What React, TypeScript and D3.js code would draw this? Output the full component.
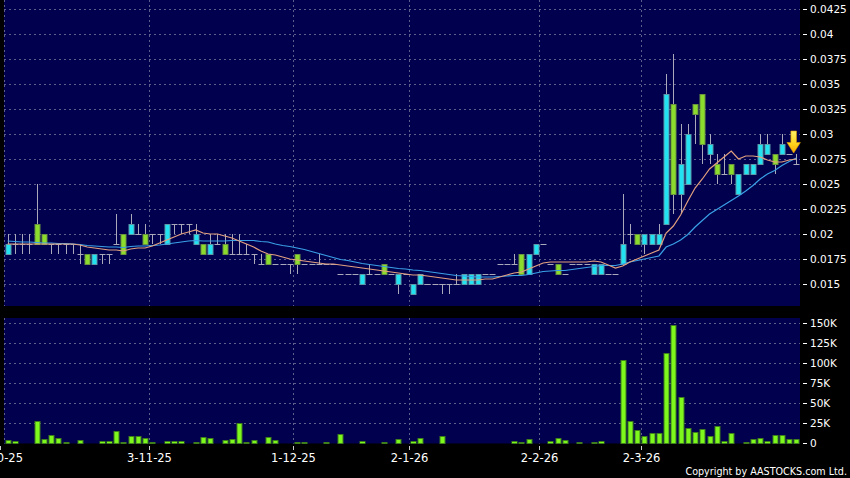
import { useEffect, useRef } from "react"
import * as d3 from "d3"

// daily candles, oldest first
const opens = [
	0.018, 0.019, 0.019, 0.019, 0.021, 0.02, 0.019, 0.019, 0.019, 0.019,
	0.018, 0.018, 0.017, 0.018, 0.018, 0.019, 0.02, 0.02, 0.02, 0.02,
	0.02, 0.02, 0.019, 0.021, 0.021, 0.021, 0.019, 0.019, 0.018, 0.019,
	0.019, 0.018, 0.018, 0.018, 0.018, 0.017, 0.018, 0.017, 0.017, 0.017,
	0.018, 0.017, 0.017, 0.017, 0.017, 0.017, 0.016, 0.016, 0.016, 0.015,
	0.016, 0.016, 0.017, 0.016, 0.015, 0.016, 0.014, 0.015, 0.015, 0.015,
	0.015, 0.015, 0.015, 0.015, 0.015, 0.015, 0.016, 0.016, 0.017, 0.017,
	0.017, 0.018, 0.016, 0.018, 0.019, 0.017, 0.017, 0.016, 0.017, 0.017,
	0.017, 0.016, 0.016, 0.016, 0.016, 0.017, 0.02, 0.02, 0.019, 0.019,
	0.019, 0.021, 0.033, 0.024, 0.025, 0.033, 0.034, 0.028, 0.027, 0.026,
	0.027, 0.024, 0.026, 0.026, 0.027, 0.028, 0.028, 0.028, 0.028, 0.027,
]
const highs = [
	0.02, 0.02, 0.02, 0.02, 0.025, 0.02, 0.019, 0.019, 0.019, 0.019,
	0.019, 0.018, 0.018, 0.018, 0.018, 0.022, 0.02, 0.022, 0.021, 0.021,
	0.02, 0.02, 0.021, 0.021, 0.021, 0.021, 0.021, 0.019, 0.02, 0.02,
	0.02, 0.02, 0.02, 0.019, 0.018, 0.018, 0.018, 0.017, 0.017, 0.017,
	0.018, 0.017, 0.017, 0.018, 0.017, 0.017, 0.016, 0.016, 0.016, 0.016,
	0.017, 0.016, 0.017, 0.016, 0.016, 0.016, 0.015, 0.016, 0.015, 0.015,
	0.015, 0.015, 0.016, 0.016, 0.016, 0.016, 0.016, 0.016, 0.017, 0.017,
	0.018, 0.018, 0.018, 0.019, 0.019, 0.017, 0.017, 0.016, 0.017, 0.017,
	0.017, 0.017, 0.017, 0.016, 0.016, 0.024, 0.021, 0.02, 0.02, 0.02,
	0.021, 0.036, 0.038, 0.031, 0.031, 0.033, 0.034, 0.03, 0.028, 0.028,
	0.027, 0.026, 0.027, 0.027, 0.03, 0.03, 0.028, 0.03, 0.028, 0.028,
]
const lows = [
	0.018, 0.018, 0.018, 0.018, 0.019, 0.019, 0.018, 0.018, 0.018, 0.018,
	0.017, 0.017, 0.017, 0.017, 0.017, 0.019, 0.018, 0.02, 0.02, 0.019,
	0.019, 0.019, 0.019, 0.02, 0.02, 0.02, 0.019, 0.018, 0.018, 0.019,
	0.018, 0.018, 0.018, 0.018, 0.017, 0.017, 0.017, 0.017, 0.017, 0.016,
	0.016, 0.017, 0.017, 0.017, 0.017, 0.017, 0.016, 0.016, 0.016, 0.015,
	0.016, 0.016, 0.016, 0.016, 0.014, 0.016, 0.014, 0.015, 0.015, 0.015,
	0.014, 0.014, 0.015, 0.015, 0.015, 0.015, 0.016, 0.016, 0.017, 0.017,
	0.017, 0.016, 0.016, 0.018, 0.019, 0.017, 0.016, 0.016, 0.017, 0.017,
	0.017, 0.016, 0.016, 0.016, 0.016, 0.017, 0.019, 0.019, 0.018, 0.019,
	0.019, 0.021, 0.022, 0.022, 0.025, 0.029, 0.027, 0.027, 0.025, 0.026,
	0.025, 0.024, 0.026, 0.026, 0.027, 0.028, 0.026, 0.028, 0.028, 0.027,
]
const closes = [
	0.019, 0.019, 0.019, 0.019, 0.019, 0.019, 0.019, 0.019, 0.019, 0.019,
	0.018, 0.017, 0.018, 0.018, 0.018, 0.019, 0.018, 0.021, 0.02, 0.019,
	0.02, 0.02, 0.021, 0.021, 0.021, 0.021, 0.02, 0.018, 0.019, 0.019,
	0.018, 0.018, 0.018, 0.018, 0.018, 0.017, 0.017, 0.017, 0.017, 0.017,
	0.017, 0.017, 0.017, 0.017, 0.017, 0.017, 0.016, 0.016, 0.016, 0.016,
	0.016, 0.016, 0.016, 0.016, 0.016, 0.016, 0.015, 0.016, 0.015, 0.015,
	0.015, 0.015, 0.015, 0.016, 0.016, 0.016, 0.016, 0.016, 0.017, 0.017,
	0.017, 0.016, 0.018, 0.019, 0.019, 0.017, 0.016, 0.016, 0.017, 0.017,
	0.017, 0.017, 0.017, 0.016, 0.016, 0.019, 0.02, 0.019, 0.02, 0.02,
	0.02, 0.034, 0.024, 0.027, 0.03, 0.032, 0.029, 0.029, 0.026, 0.026,
	0.026, 0.026, 0.027, 0.027, 0.029, 0.029, 0.027, 0.029, 0.028, 0.027,
]
// volume in thousands of shares
const volumes = [
	4, 2.5, 0.5, 0, 28, 5, 10, 6.6, 1.6, 0,
	3.3, 0, 0.5, 2.5, 2.5, 15, 1.5, 9, 8.5, 6,
	1.5, 0.5, 3, 2.5, 2.5, 0, 1, 7.5, 6.5, 0.5,
	4, 5.5, 25, 1.5, 4, 0, 7, 3.3, 0, 0,
	0.7, 0.7, 0, 0.3, 1, 0.5, 11, 0, 0, 2.5,
	0, 0.3, 1, 0.5, 4.5, 0, 2, 6.5, 0, 0,
	8.5, 0.5, 0, 0, 0.5, 0, 0.5, 0, 0, 0,
	2.5, 1, 5, 0, 0, 2.5, 5.8, 3.3, 0, 1,
	0.5, 1, 3, 0, 0, 104, 27, 16, 9, 12.5,
	12, 113, 147, 57, 19, 14, 17, 8.5, 21, 2.5,
	13, 0, 1, 4.5, 6.3, 2.3, 10, 9.5, 5, 5,
]
// closes before the first visible day, needed for the moving averages
const priorCloses = [
	0.02, 0.02, 0.019, 0.02, 0.02, 0.019, 0.02, 0.019, 0.02, 0.019,
	0.019, 0.019, 0.019, 0.019, 0.019, 0.019, 0.019, 0.019, 0.019,
]

const dateTicks = [-0.5, 20, 40, 56, 74, 88]
const dateLabels = ["2-10-25", "3-11-25", "1-12-25", "2-1-26", "2-2-26", "2-3-26"]
const priceTicks = [0.015, 0.0175, 0.02, 0.0225, 0.025, 0.0275, 0.03, 0.0325, 0.035, 0.0375, 0.04, 0.0425]
const priceLabels = ["0.015", "0.0175", "0.02", "0.0225", "0.025", "0.0275", "0.03", "0.0325", "0.035", "0.0375", "0.04", "0.0425"]
const volumeTicks = [0, 25, 50, 75, 100, 125, 150]
const volumeLabels = ["0", "25K", "50K", "75K", "100K", "125K", "150K"]

const FONT = "DejaVu Sans, Verdana, sans-serif"

function movingAverage(n) {
	const all = priorCloses.concat(closes)
	const offset = priorCloses.length
	return closes.map((_, i) => d3.mean(all.slice(offset + i - n + 1, offset + i + 1)))
}

function App() {
	const ref = useRef(null)

	useEffect(() => {
		document.body.style.margin = "0"
		document.body.style.background = "#000"

		const svg = d3.select(ref.current)
		svg.selectAll("*").remove()

		const left = 4
		const right = 800
		const priceTop = 0
		const priceBottom = 306
		const volTop = 318
		const volBottom = 443.5
		const n = closes.length

		const xs = d3.scaleLinear().domain([0, n]).range([left, right])
		const cx = (i) => xs(i + 0.5)
		const bw = 6

		const y = d3.scaleLinear().domain([0.015, 0.0425]).range([284, 9])
		const yv = d3.scaleLinear().domain([0, 150]).range([volBottom - 0.5, 323])

		const gridColor = "#5e5e8c"

		// panels
		svg.append("rect").attr("x", left).attr("y", priceTop).attr("width", right - left).attr("height", priceBottom - priceTop).attr("fill", "#00004f")
		svg.append("rect").attr("x", left).attr("y", volTop).attr("width", right - left).attr("height", volBottom - volTop).attr("fill", "#00004f")

		const grid = svg.append("g").attr("stroke", gridColor).attr("stroke-width", 1).attr("stroke-dasharray", "2,3")
		priceTicks.forEach((t) => {
			grid.append("line").attr("x1", left).attr("x2", right).attr("y1", Math.round(y(t)) + 0.5).attr("y2", Math.round(y(t)) + 0.5)
		})
		volumeTicks.slice(1).forEach((t) => {
			grid.append("line").attr("x1", left).attr("x2", right).attr("y1", Math.round(yv(t)) + 0.5).attr("y2", Math.round(yv(t)) + 0.5)
		})
		dateTicks.forEach((t) => {
			const gx = Math.round(Math.max(xs(t), left)) + 0.5
			grid.append("line").attr("x1", gx).attr("x2", gx).attr("y1", priceTop).attr("y2", priceBottom)
			grid.append("line").attr("x1", gx).attr("x2", gx).attr("y1", volTop).attr("y2", volBottom)
		})

		// candles
		const candles = svg.append("g")
		closes.forEach((c, i) => {
			const o = opens[i]
			const x = Math.round(cx(i))
			candles.append("line")
				.attr("x1", x + 0.5).attr("x2", x + 0.5)
				.attr("y1", y(highs[i])).attr("y2", y(lows[i]))
				.attr("stroke", "#a9a9ba").attr("stroke-width", 1)
			if (o === c) {
				candles.append("line")
					.attr("x1", x - 2.5).attr("x2", x + 3.5)
					.attr("y1", Math.round(y(c)) + 0.5).attr("y2", Math.round(y(c)) + 0.5)
					.attr("stroke", "#a9a9ba").attr("stroke-width", 1)
			} else {
				const up = c > o
				candles.append("rect")
					.attr("x", x - 2)
					.attr("y", Math.round(y(Math.max(o, c))) + 0.5)
					.attr("width", bw - 1)
					.attr("height", Math.round(y(Math.min(o, c))) - Math.round(y(Math.max(o, c))))
					.attr("fill", up ? "#22e2f2" : "#8bdc2c")
					.attr("stroke", up ? "#5c98a8" : "#6a9440")
					.attr("stroke-width", 1)
			}
		})

		// moving averages
		const line = d3.line().x((d, i) => cx(i)).y((d) => y(d))
		svg.append("path").datum(movingAverage(20)).attr("d", line).attr("fill", "none").attr("stroke", "#3aa0e6").attr("stroke-width", 1.2)
		svg.append("path").datum(movingAverage(10)).attr("d", line).attr("fill", "none").attr("stroke", "#e2a07e").attr("stroke-width", 1.2)

		// arrow on the latest day
		const defs = svg.append("defs")
		const grad = defs.append("linearGradient").attr("id", "arrowGrad").attr("x1", 0).attr("x2", 0).attr("y1", 0).attr("y2", 1)
		grad.append("stop").attr("offset", "0%").attr("stop-color", "#fff266")
		grad.append("stop").attr("offset", "60%").attr("stop-color", "#ffd21c")
		grad.append("stop").attr("offset", "100%").attr("stop-color", "#f7a600")
		const ax = cx(n - 1) - 2.7
		const ay = y(highs[n - 1]) - 1
		svg.append("path")
			.attr("d", `M${ax},${ay} L${ax - 6.7},${ay - 10.5} L${ax - 2.8},${ay - 10.5} L${ax - 2.8},${ay - 22} L${ax + 2.8},${ay - 22} L${ax + 2.8},${ay - 10.5} L${ax + 6.7},${ay - 10.5} Z`)
			.attr("fill", "url(#arrowGrad)")
			.attr("stroke", "#e09a00")
			.attr("stroke-width", 0.6)

		// volume bars
		svg.append("g")
			.selectAll("rect")
			.data(volumes)
			.enter()
			.append("rect")
			.attr("x", (d, i) => Math.round(cx(i)) - 2)
			.attr("y", (d) => Math.round(yv(d)) + 0.5)
			.attr("width", bw - 1)
			.attr("height", (d) => Math.max(0, Math.round(yv(0)) - Math.round(yv(d))))
			.attr("fill", "#7ef81c")
			.attr("stroke", "#3f7f1c")
			.attr("stroke-width", 1)

		// right axes
		const axis = svg.append("g").attr("font-family", FONT).attr("font-size", 10.5).attr("fill", "#ffffff")
		priceTicks.forEach((t, i) => {
			const ty = Math.round(y(t)) + 0.5
			axis.append("line").attr("x1", 803).attr("x2", 807).attr("y1", ty).attr("y2", ty).attr("stroke", "#ffffff")
			axis.append("text").attr("x", 810).attr("y", ty).attr("dy", "0.36em").text(priceLabels[i])
		})
		volumeTicks.forEach((t, i) => {
			const ty = Math.round(yv(t)) + 0.5
			axis.append("line").attr("x1", 803).attr("x2", 807).attr("y1", ty).attr("y2", ty).attr("stroke", "#ffffff")
			axis.append("text").attr("x", 810).attr("y", ty).attr("dy", "0.36em").text(volumeLabels[i])
		})

		// date axis
		const dates = svg.append("g").attr("font-family", FONT).attr("font-size", 11.5).attr("fill", "#ffffff")
		dateTicks.forEach((t, i) => {
			const tx = Math.round(xs(t)) + 0.5
			dates.append("line").attr("x1", tx).attr("x2", tx).attr("y1", 446).attr("y2", 450).attr("stroke", "#cccccc")
			dates.append("text").attr("x", tx).attr("y", 462).attr("text-anchor", "middle").text(dateLabels[i])
		})

		svg.append("text")
			.attr("x", 847)
			.attr("y", 475)
			.attr("text-anchor", "end")
			.attr("font-family", FONT)
			.attr("font-size", 9.6)
			.attr("fill", "#ffffff")
			.text("Copyright by AASTOCKS.com Ltd.")
	}, [])

	return <svg ref={ref} width={850} height={478} style={{ display: "block", background: "#000" }}></svg>
}

export default App
